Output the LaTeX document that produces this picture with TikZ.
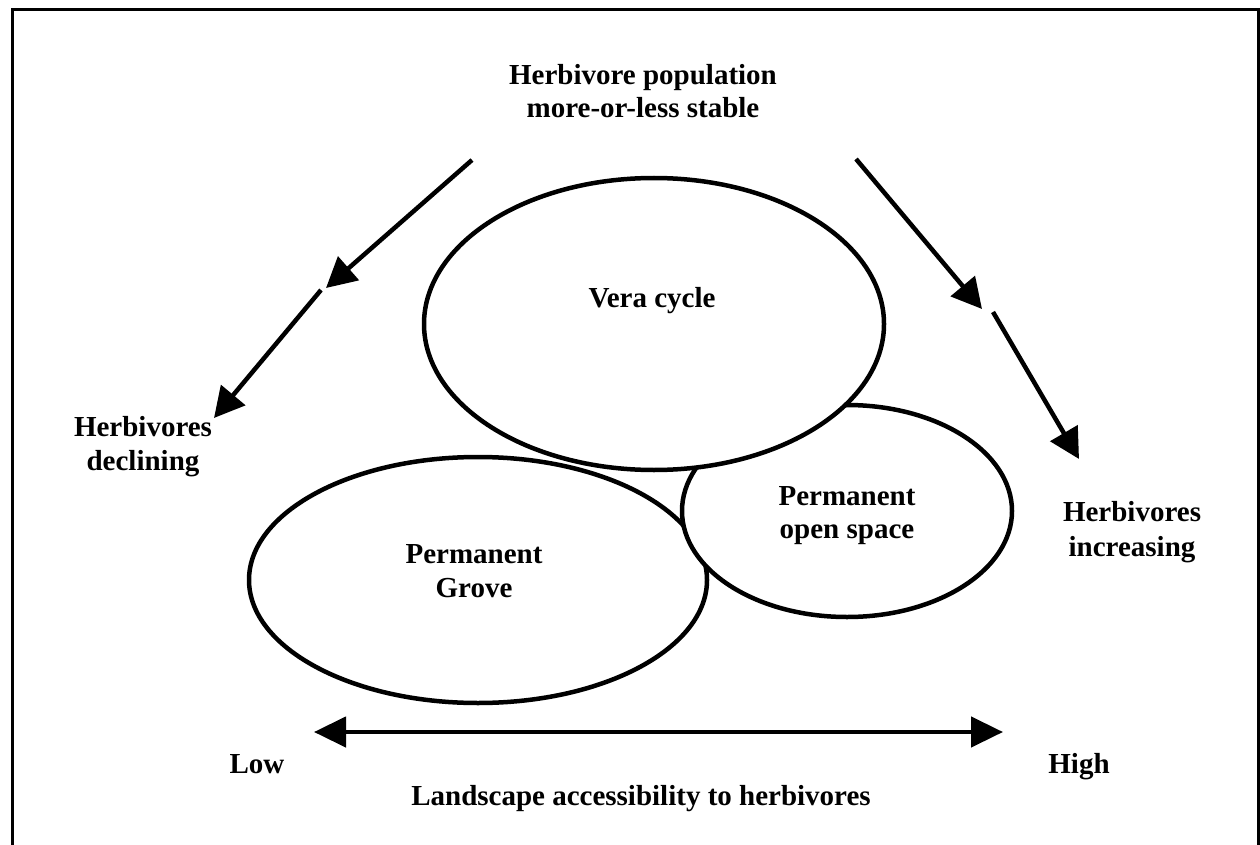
\documentclass[tikz,border=0pt]{standalone}
\usepackage{fontspec}
\setmainfont{Liberation Serif}
\usetikzlibrary{shapes.geometric,arrows.meta}
\begin{document}
\begin{tikzpicture}[x=1pt,y=-1pt,
  lbl/.style={font=\fontsize{29}{34}\selectfont\bfseries, inner sep=0pt, anchor=base},
  blob/.style={ellipse, draw, fill=white, line width=4.5pt, inner sep=0pt},
  arr/.style={line width=4.5pt, -{Triangle[length=30pt,width=31pt]}},
  dbl/.style={line width=4.5pt, {Triangle[length=32pt,width=30pt]}-{Triangle[length=32pt,width=30pt]}},
  frameline/.style={line width=3pt}]
\useasboundingbox (0,0) rectangle (1260,845);
% frame
\coordinate (f1) at (12,860);
\coordinate (f2) at (12,10);
\coordinate (f3) at (1258,10);
\coordinate (f4) at (1258,860);
\draw[frameline] (f1) -- (f2) -- (f3) -- (f4);
% ellipses
\node[blob, minimum width=458pt, minimum height=246pt] (grove) at (478,580) {};
\node[blob, minimum width=330pt, minimum height=212pt] (open) at (847,511) {};
\node[blob, minimum width=460pt, minimum height=292pt] (vera) at (654,324) {};
% labels
\node[lbl] (t1) at (643,85) {Herbivore population};
\node[lbl] (t2) at (643,118) {more-or-less stable};
\node[lbl] (vc) at (652,307) {Vera cycle};
\node[lbl] (g1) at (474,563) {Permanent};
\node[lbl] (g2) at (474,597) {Grove};
\node[lbl] (o1) at (847,505) {Permanent};
\node[lbl] (o2) at (847,538) {open space};
\node[lbl] (d1) at (143,436) {Herbivores};
\node[lbl] (d2) at (143,470) {declining};
\node[lbl] (i1) at (1132,521) {Herbivores};
\node[lbl] (i2) at (1132,556) {increasing};
\node[lbl] (low) at (257,773) {Low};
\node[lbl] (high) at (1079,773) {High};
\node[lbl] (land) at (641,805) {Landscape accessibility to herbivores};
% arrows
\coordinate (la1) at (472,160);
\coordinate (la2) at (326,288);
\coordinate (lb1) at (321,290);
\coordinate (lb2) at (214,418);
\coordinate (ra1) at (856,159);
\coordinate (ra2) at (982,309);
\coordinate (rb1) at (993,312);
\coordinate (rb2) at (1079,459);
\coordinate (ax1) at (314,732);
\coordinate (ax2) at (1003,732);
\draw[arr] (la1) -- (la2);
\draw[arr] (lb1) -- (lb2);
\draw[arr] (ra1) -- (ra2);
\draw[arr] (rb1) -- (rb2);
\draw[dbl] (ax1) -- (ax2);
\end{tikzpicture}
\end{document}
